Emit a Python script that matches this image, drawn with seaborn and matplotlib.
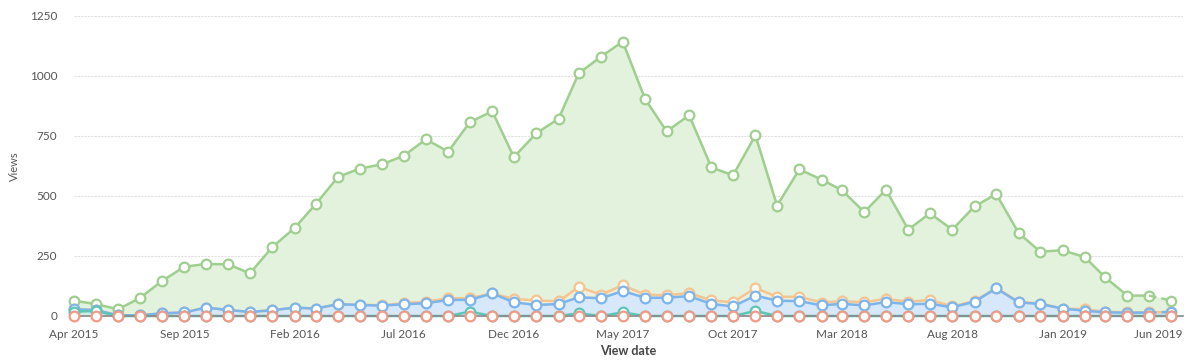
import pandas as pd
import numpy as np
import seaborn as sns
import matplotlib.pyplot as plt
import matplotlib.transforms as mtransforms


months = pd.date_range("2015-04-01", "2019-06-01", freq="MS")

green = [64, 50, 28, 74, 146, 205, 217, 215, 178, 287, 367, 465, 579, 614, 632,
         667, 736, 685, 808, 853, 662, 761, 822, 1011, 1081, 1143, 904, 769, 837,
         619, 586, 753, 460, 611, 568, 524, 433, 526, 360, 428, 360, 457, 508, 346,
         268, 274, 245, 161, 85, 85, 64]
orange = [28, 25, 3, 3, 11, 15, 35, 25, 17, 24, 35, 31, 49, 47, 45,
          53, 60, 74, 74, 94, 71, 65, 61, 121, 89, 128, 89, 86, 96,
          65, 57, 117, 80, 80, 56, 62, 57, 72, 59, 67, 40, 62, 117, 59,
          52, 31, 28, 18, 15, 15, 17]
blue = [28, 25, 3, 3, 11, 15, 35, 25, 17, 24, 35, 31, 49, 46, 43,
        49, 53, 67, 67, 94, 57, 46, 50, 78, 74, 104, 76, 76, 83,
        50, 40, 85, 64, 62, 44, 51, 44, 58, 49, 51, 36, 60, 115, 57,
        50, 31, 22, 15, 14, 14, 17]
teal = [18, 21, 0, 0, 0, 0, 0, 0, 0, 0, 0, 0, 0, 0, 0,
        0, 0, 0, 18, 0, 0, 0, 0, 11, 0, 15, 0, 0, 0,
        0, 0, 21, 0, 0, 0, 0, 0, 0, 0, 0, 0, 0, 0, 0,
        0, 0, 0, 0, 0, 0, 0]
red = [0] * len(months)

y_ticks = [0, 250, 500, 750, 1000, 1250]
x_ticks = pd.date_range("2015-04-01", "2019-06-01", freq="5MS")

c_green = "#9fcf8f"
c_orange = "#f6c48f"
c_blue = "#7cb5ec"
c_teal = "#5cc6b6"
c_red = "#f39a86"

sns.set_style("white")
plt.rcParams["font.family"] = ["Lato", "DejaVu Sans"]

fig = plt.figure(figsize=(11.93, 3.62), dpi=100)
ax = fig.add_axes([74 / 1193, 46 / 362, (1183 - 74) / 1193, 300 / 362])

ax.fill_between(months, green, color="#e3f2dc", zorder=1)
ax.fill_between(months, orange, color="#eef0dc", zorder=1.1)
ax.fill_between(months, blue, color="#d6e8fa", zorder=1.2)
ax.fill_between(months, teal, color="#cdeee9", zorder=1.3)

series = [(green, c_green), (orange, c_orange), (blue, c_blue), (teal, c_teal), (red, c_red)]
for i, (vals, col) in enumerate(series):
    df = pd.DataFrame({"date": months, "views": vals})
    dashed_end = col in (c_green, c_blue)
    head = df.iloc[:-1] if dashed_end else df
    ls = "none" if col == c_red else "-"
    sns.lineplot(data=head, x="date", y="views", color=col, lw=1.8, marker="o",
                 linestyle=ls, markersize=7, markerfacecolor="white",
                 markeredgecolor=col, markeredgewidth=1.6, ax=ax,
                 zorder=3 + i, clip_on=False)
    if dashed_end:
        tail = df.iloc[-2:]
        sns.lineplot(data=tail, x="date", y="views", color=col, lw=1.8,
                     linestyle=(0, (3, 2)), ax=ax, zorder=3 + i, clip_on=False)
        sns.scatterplot(data=tail.iloc[-1:], x="date", y="views", s=45,
                        facecolor="white", edgecolor=col, linewidth=1.6,
                        ax=ax, zorder=3.5 + i, clip_on=False)

ax.set_ylim(0, 1250)
ax.set_xlim(pd.Timestamp("2015-04-01"), pd.Timestamp("2019-06-17"))
ax.set_yticks(y_ticks)
ax.set_yticklabels([str(t) for t in y_ticks])
ax.set_xticks(x_ticks)
ax.set_xticklabels([d.strftime("%b %Y") for d in x_ticks])
ax.grid(axis="y", color="#e0e0e0", lw=0.8, linestyle=(0, (2, 1)))
ax.set_axisbelow(True)
for s in ["top", "right", "left"]:
    ax.spines[s].set_visible(False)
ax.spines["bottom"].set_color("#8a8a8a")
ax.spines["bottom"].set_linewidth(1.2)
ax.spines["bottom"].set_zorder(6.5)
ax.tick_params(axis="both", length=0, labelsize=8.5, labelcolor="#555555")
ax.tick_params(axis="y", pad=12)
ax.tick_params(axis="x", pad=9)

# last label pulled inside, like the reference
last = ax.get_xticklabels()[-1]
last.set_horizontalalignment("right")
last.set_transform(last.get_transform() + mtransforms.ScaledTranslation(0.11, 0, fig.dpi_scale_trans))

ax.set_xlabel("View date", fontsize=9, fontweight="bold", color="#444444", labelpad=4)
ax.set_ylabel("Views", fontsize=8, color="#555555")
ax.yaxis.set_label_coords(-0.049, 0.5)

plt.savefig("out.png", dpi=100)
